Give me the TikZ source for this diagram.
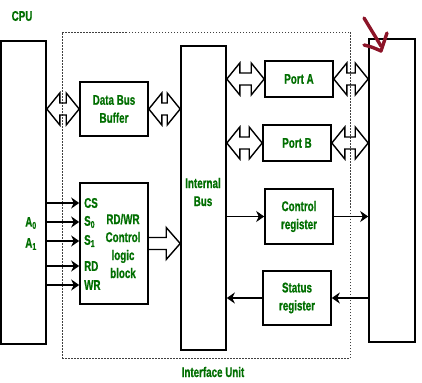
\documentclass[tikz,border=0pt]{standalone}
\usepackage{fontspec}
\setmainfont[FakeStretch=0.7, BoldFeatures={FakeBold=0.8}]{Liberation Sans}
\usetikzlibrary{arrows.meta,calc}
\definecolor{lblgreen}{RGB}{0,110,0}
\definecolor{penred}{RGB}{140,20,40}

% hollow bus arrows between two points on one line
\newcommand\dblbus[2]{%
  \draw[bus] let \p1=#1, \p2=#2 in
    (\x1,\y1) -- (\x1+13pt,\y1+16pt) -- (\x1+13pt,\y1+6pt) -- (\x2-13pt,\y1+6pt)
    -- (\x2-13pt,\y1+16pt) -- (\x2,\y1) -- (\x2-13pt,\y1-16pt) -- (\x2-13pt,\y1-6pt)
    -- (\x1+13pt,\y1-6pt) -- (\x1+13pt,\y1-16pt) -- cycle;}
\newcommand\onebus[2]{%
  \draw[bus] let \p1=#1, \p2=#2 in
    (\x1,\y1+6pt) -- (\x2-14pt,\y1+6pt) -- (\x2-14pt,\y1+16pt) -- (\x2,\y1)
    -- (\x2-14pt,\y1-16pt) -- (\x2-14pt,\y1-6pt) -- (\x1,\y1-6pt);}

\begin{document}
\begin{tikzpicture}[x=1pt, y=-1pt, font=\bfseries\fontsize{14}{18}\selectfont,
  box/.style={draw, line width=1.6pt, text=lblgreen, align=center, inner sep=0pt},
  lbl/.style={text=lblgreen, inner sep=0pt},
  sig/.style={line width=1.7pt, -{Stealth[length=8pt,width=11pt,inset=2.5pt]}},
  bus/.style={line width=1.4pt, line join=miter},
  scribble/.style={penred, line width=3.4pt, line cap=round, line join=round}]
  \useasboundingbox (0,0) rectangle (422,382);

  \node[draw, dash pattern=on 1.5pt off 1.5pt, line width=0.6pt, black!75,
    minimum width=288pt, minimum height=326pt] (iface) at (206,195) {};
  \node[lbl] (ifacelbl) at (213,372) {Interface Unit};

  \node[box, minimum width=45pt, minimum height=303pt] (cpu) at (23.5,192.5) {};
  \node[lbl] (cpulbl) at (22,16) {CPU};
  \node[lbl] (a0) at (31,223) {A\textsubscript{0}};
  \node[lbl] (a1) at (31,244) {A\textsubscript{1}};

  \node[box, minimum width=68pt, minimum height=54pt] (buf) at (114,109) {Data Bus\\Buffer};
  \node[box, minimum width=68pt, minimum height=121pt] (logic) at (114,243.5) {};
  \node[lbl, align=center] (logictxt) at (123,246) {RD/WR\\Control\\logic\\block};
  \node[box, minimum width=45pt, minimum height=304pt] (ibus) at (203.5,198) {};
  \node[lbl, align=center] (ibustxt) at (203,192) {Internal\\Bus};

  \node[box, minimum width=68pt, minimum height=36pt] (porta) at (299,79) {Port A};
  \node[box, minimum width=68pt, minimum height=36pt] (portb) at (297,143) {Port B};
  \node[box, minimum width=68pt, minimum height=55pt] (ctrl) at (299,216.5) {Control\\register};
  \node[box, minimum width=68pt, minimum height=54pt] (stat) at (297,298) {Status\\register};
  \node[box, minimum width=46pt, minimum height=303pt] (dev) at (392,190.5) {};

  \foreach \nm/\yy/\txt in {cs/203/CS, s0/222/S\textsubscript{0}, s1/241/S\textsubscript{1},
      rd/266/RD, wr/285/WR} {
    \node[lbl, anchor=west] (\nm) at (84,\yy) {\txt};
    \draw[sig] (cpu.east |- 0,\yy) -- (logic.west |- 0,\yy);
  }

  \dblbus{(cpu.east |- buf.west)}{(buf.west)}
  \dblbus{(buf.east)}{(ibus.west |- buf.east)}
  \dblbus{(ibus.east |- porta.west)}{(porta.west)}
  \dblbus{(porta.east)}{(dev.west |- porta.east)}
  \dblbus{(ibus.east |- portb.west)}{(portb.west)}
  \dblbus{(portb.east)}{(dev.west |- portb.east)}
  \onebus{(logic.east)}{(ibus.west |- logic.east)}

  \draw[sig] (ibus.east |- ctrl.west) -- (ctrl.west);
  \draw[sig] (ctrl.east) -- (dev.west |- ctrl.east);
  \draw[sig] (dev.west |- stat.east) -- (stat.east);
  \draw[sig] (stat.west) -- (ibus.east |- stat.west);

  \draw[scribble] (364,18) -- (381,46);
  \draw[scribble] (364,45) .. controls (372,47) .. (381,51) -- (387,33);
\end{tikzpicture}
\end{document}
